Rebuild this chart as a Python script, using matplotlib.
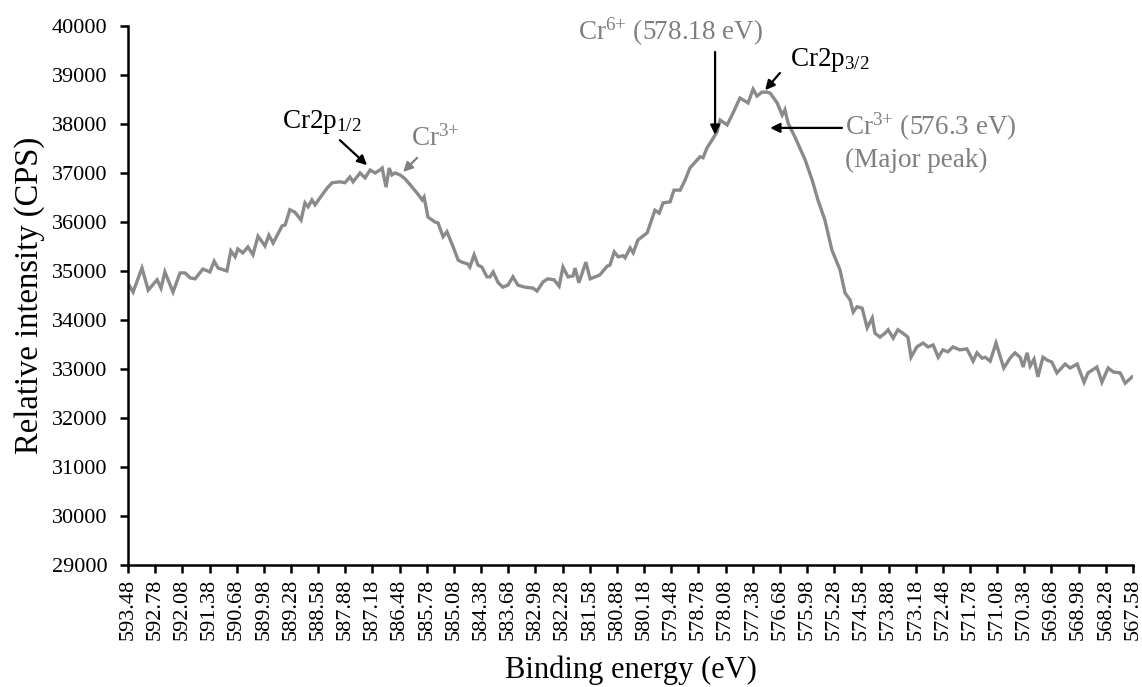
import matplotlib.pyplot as plt
import numpy as np

# XPS Cr2p spectrum
energy = [593.48, 593.45, 593.35, 593.12, 592.96, 592.73, 592.63, 592.53, 592.32, 592.14,
          592.01, 591.88, 591.75, 591.55, 591.37, 591.26, 591.16, 590.93, 590.83, 590.72,
          590.65, 590.52, 590.39, 590.26, 590.13, 589.95, 589.85, 589.74, 589.51, 589.43,
          589.31, 589.18, 589.02, 588.92, 588.84, 588.74, 588.66, 588.48, 588.35, 588.22,
          588.02, 587.89, 587.76, 587.68, 587.50, 587.37, 587.24, 587.11, 586.99, 586.93,
          586.83, 586.75, 586.68, 586.60, 586.47, 586.34, 586.21, 586.03, 585.90, 585.85,
          585.75, 585.57, 585.49, 585.36, 585.26, 585.10, 584.97, 584.87, 584.72, 584.67,
          584.56, 584.46, 584.36, 584.23, 584.15, 584.07, 583.94, 583.82, 583.69, 583.56,
          583.43, 583.25, 583.04, 582.94, 582.78, 582.66, 582.50, 582.37, 582.27, 582.14,
          582.01, 581.96, 581.86, 581.68, 581.57, 581.44, 581.32, 581.13, 581.06, 580.95,
          580.85, 580.72, 580.67, 580.54, 580.46, 580.34, 580.10, 580.03, 579.90, 579.79,
          579.69, 579.51, 579.41, 579.25, 579.12, 579.00, 578.81, 578.74, 578.66, 578.56,
          578.43, 578.30, 578.22, 578.04, 577.89, 577.71, 577.50, 577.37, 577.27, 577.14,
          577.01, 576.93, 576.75, 576.62, 576.55, 576.47, 576.29, 576.03, 575.85, 575.70,
          575.52, 575.34, 575.13, 575.00, 574.87, 574.79, 574.69, 574.56, 574.43, 574.30,
          574.23, 574.10, 573.97, 573.89, 573.76, 573.64, 573.51, 573.38, 573.30, 573.15,
          572.99, 572.86, 572.73, 572.60, 572.48, 572.35, 572.22, 572.04, 571.86, 571.70,
          571.60, 571.47, 571.39, 571.26, 571.11, 570.91, 570.73, 570.62, 570.49, 570.41,
          570.31, 570.23, 570.13, 570.03, 569.90, 569.79, 569.67, 569.54, 569.33, 569.20,
          569.02, 568.84, 568.74, 568.51, 568.38, 568.22, 568.09, 567.91, 567.78, 567.60]
intensity = [34650, 34710, 34570, 35060, 34610, 34820, 34650, 34980, 34570, 34960,
             34960, 34860, 34840, 35040, 34980, 35200, 35060, 35000, 35410, 35290,
             35450, 35370, 35490, 35330, 35710, 35510, 35730, 35570, 35920, 35940,
             36250, 36200, 36040, 36390, 36310, 36450, 36350, 36550, 36690, 36800,
             36820, 36800, 36920, 36820, 37000, 36900, 37060, 37000, 37060, 37100,
             36710, 37100, 36960, 37000, 36960, 36880, 36760, 36590, 36450, 36510,
             36100, 36000, 35980, 35700, 35800, 35490, 35220, 35180, 35140, 35080,
             35330, 35120, 35080, 34880, 34880, 34980, 34760, 34670, 34710, 34880,
             34710, 34670, 34650, 34590, 34780, 34840, 34820, 34690, 35080, 34880,
             34900, 35060, 34760, 35180, 34840, 34880, 34920, 35100, 35120, 35390,
             35290, 35310, 35270, 35470, 35370, 35630, 35780, 35940, 36240, 36180,
             36390, 36410, 36650, 36650, 36860, 37100, 37270, 37330, 37310, 37510,
             37670, 37840, 38080, 37980, 38220, 38530, 38430, 38710, 38570, 38650,
             38650, 38630, 38430, 38180, 38290, 38020, 37730, 37270, 36860, 36450,
             36040, 35430, 35020, 34550, 34410, 34160, 34270, 34240, 33840, 34040,
             33730, 33650, 33730, 33800, 33630, 33800, 33730, 33650, 33240, 33450,
             33530, 33450, 33490, 33240, 33390, 33350, 33450, 33390, 33410, 33160,
             33330, 33220, 33240, 33160, 33530, 33020, 33240, 33330, 33240, 33040,
             33330, 33060, 33200, 32840, 33240, 33180, 33140, 32920, 33100, 33020,
             33100, 32730, 32920, 33040, 32730, 33020, 32940, 32920, 32710, 32840]

tick_labels = ['593.48', '592.78', '592.08', '591.38', '590.68', '589.98', '589.28', '588.58',
               '587.88', '587.18', '586.48', '585.78', '585.08', '584.38', '583.68', '582.98',
               '582.28', '581.58', '580.88', '580.18', '579.48', '578.78', '578.08', '577.38',
               '576.68', '575.98', '575.28', '574.58', '573.88', '573.18', '572.48', '571.78',
               '571.08', '570.38', '569.68', '568.98', '568.28', '567.58']

plt.rcParams['font.family'] = ['Liberation Serif', 'DejaVu Serif']
plt.rcParams['mathtext.fontset'] = 'custom'
plt.rcParams['mathtext.rm'] = 'Liberation Serif'
plt.rcParams['mathtext.it'] = 'Liberation Serif:italic'

line_grey = '#8a8a8a'
text_grey = '#7f7f7f'

fig = plt.figure(figsize=(11.42, 6.87), dpi=100)
ax = fig.add_axes([0.1121, 0.1776, 0.88, 0.7846])

ax.plot(energy, intensity, color=line_grey, lw=2.4, solid_joinstyle='miter')

ticks = [float(t) for t in tick_labels]
ax.set_xticks(ticks)
ax.set_xticklabels(tick_labels, rotation=90, fontsize=16)
ax.set_xlim(593.48, 567.58)
ax.set_ylim(29000, 40000)
ax.set_yticks(np.arange(29000, 40001, 1000))
ax.tick_params(axis='y', labelsize=16, pad=9)
ax.tick_params(axis='x', pad=4)
ax.tick_params(direction='out', length=6, width=1.8)

for side in ['top', 'right']:
    ax.spines[side].set_visible(False)
for side in ['left', 'bottom']:
    ax.spines[side].set_linewidth(1.8)

ax.set_ylabel('Relative intensity (CPS)', fontsize=23.5, labelpad=5)
ax.set_xlabel('Binding energy (eV)', fontsize=22, labelpad=11)

# annotations
black_arrow = dict(arrowstyle='-|>', color='black', lw=1.6, mutation_scale=14, shrinkA=0, shrinkB=0)
grey_arrow = dict(arrowstyle='-|>', color=text_grey, lw=1.6, mutation_scale=14, shrinkA=0, shrinkB=0)
fs = 19.5

ax.text(588.48, 38040, 'Cr2p$_{1/2}$', fontsize=fs, ha='center', va='center')
ax.annotate('', xy=(587.32, 37160), xytext=(588.02, 37670), arrowprops=black_arrow)

ax.text(585.55, 37700, 'Cr$^{3{+}}$', fontsize=fs, ha='center', va='center', color=text_grey)
ax.annotate('', xy=(586.39, 37020), xytext=(586.03, 37310), arrowprops=grey_arrow)

ax.text(579.51, 39880, 'Cr$^{6{+}}$ (578.18 eV)', fontsize=fs, ha='center', va='center', color=text_grey)
ax.annotate('', xy=(578.35, 37780), xytext=(578.35, 39470), arrowprops=black_arrow)

ax.text(575.40, 39310, 'Cr2p$_{3/2}$', fontsize=fs, ha='center', va='center')
ax.annotate('', xy=(577.06, 38690), xytext=(576.68, 39040), arrowprops=black_arrow)

ax.text(575.0, 37940, 'Cr$^{3{+}}$ (576.3 eV)', fontsize=fs, ha='left', va='center', color=text_grey)
ax.text(575.0, 37265, '(Major peak)', fontsize=fs, ha='left', va='center', color=text_grey)
ax.annotate('', xy=(576.93, 37920), xytext=(575.08, 37920), arrowprops=black_arrow)

plt.savefig('out.png', dpi=100)
